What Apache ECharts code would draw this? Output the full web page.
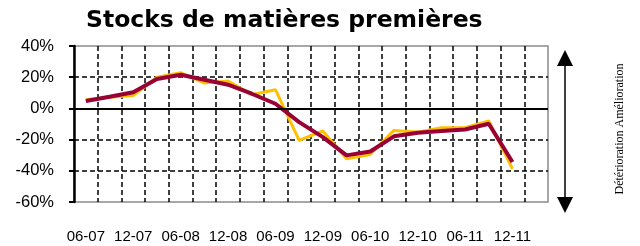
<!DOCTYPE html>
<html>
<head>
<meta charset="utf-8">
<script src="https://cdn.jsdelivr.net/npm/echarts@6/dist/echarts.min.js"></script>
<style>
html,body{margin:0;padding:0;background:#fff;}
#chart{width:640px;height:246px;}
</style>
</head>
<body>
<div id="chart"></div>
<script>
var categories = ["06-07","09-07","12-07","03-08","06-08","09-08","12-08","03-09","06-09","09-09",
                  "12-09","03-10","06-10","09-10","12-10","03-11","06-11","09-11","12-11","03-12"];
var seriesYellow = [5.6, 7.2, 8.3, 20.0, 22.9, 16.2, 17.5, 8.8, 12.0, -20.5,
                    -14.5, -32.3, -29.5, -14.1, -15.2, -12.4, -12.4, -8.1, -38.7, null];
var seriesRed = [4.7, 7.5, 10.4, 18.8, 21.6, 18.4, 15.2, 9.4, 3.0, -8.8,
                 -18.4, -30.1, -27.6, -17.9, -15.6, -14.5, -13.5, -9.8, -34.4, null];
var yTicks = { min: -60, max: 40, interval: 20 };
var titleText = "Stocks de matières premières";
var sideText = "Détérioration Amélioration";

var chart = echarts.init(document.getElementById('chart'), null, {renderer: 'canvas'});
var option = {
  animation: false,
  backgroundColor: '#ffffff',
  title: {
    text: titleText,
    left: 81, top: 4,
    textStyle: { fontFamily: 'DejaVu Sans', fontWeight: 'bold', fontSize: 23.5, color: '#000' }
  },
  grid: {
    left: 74, right: 92, top: 46, bottom: 44,
    show: true, borderColor: '#8a8a8a', borderWidth: 1.5, backgroundColor: 'transparent'
  },
  xAxis: {
    type: 'category',
    data: categories,
    boundaryGap: true,
    axisLine: { show: false, onZero: false },
    axisTick: { show: false },
    axisLabel: {
      interval: 1, margin: 27,
      fontFamily: 'Liberation Sans', fontSize: 15, color: '#000'
    },
    splitLine: {
      show: true, interval: 0, showMinLine: false, showMaxLine: false,
      lineStyle: { color: '#000', width: 1.5, type: [5, 3] }
    }
  },
  yAxis: {
    type: 'value',
    min: yTicks.min, max: yTicks.max, interval: yTicks.interval,
    axisLine: { show: true, lineStyle: { color: '#000', width: 2.5 } },
    axisTick: { show: true, inside: false, length: 5, lineStyle: { color: '#000', width: 2 } },
    axisLabel: {
      margin: 20, formatter: '{value}%',
      fontFamily: 'Liberation Sans', fontSize: 16.5, color: '#000'
    },
    splitLine: {
      show: true, showMinLine: false, showMaxLine: false,
      lineStyle: { color: '#000', width: 1.5, type: [5, 3] }
    }
  },
  series: [
    {
      name: 'Stocks', type: 'line', data: seriesYellow,
      symbol: 'none', z: 3,
      lineStyle: { color: '#FFC000', width: 3 },
      markLine: {
        silent: true, symbol: 'none', label: { show: false },
        lineStyle: { color: '#000', width: 2, type: 'solid' },
        data: [{ yAxis: 0 }]
      }
    },
    {
      name: 'Tendance', type: 'line', data: seriesRed,
      symbol: 'none', z: 4,
      lineStyle: { color: '#990033', width: 4 }
    }
  ],
  graphic: [
    { type: 'line', shape: { x1: 565, y1: 60, x2: 565, y2: 200 }, style: { stroke: '#000', lineWidth: 1.5 } },
    { type: 'polygon', shape: { points: [[565, 50], [557, 66], [573, 66]] }, style: { fill: '#000' } },
    { type: 'polygon', shape: { points: [[565, 213], [557, 197], [573, 197]] }, style: { fill: '#000' } },
    {
      type: 'text', x: 620, y: 129, rotation: Math.PI / 2,
      style: {
        text: sideText, fontFamily: 'Liberation Serif', fontSize: 12, fill: '#000',
        align: 'center', verticalAlign: 'middle'
      }
    }
  ]
};
chart.setOption(option);
</script>
</body>
</html>
